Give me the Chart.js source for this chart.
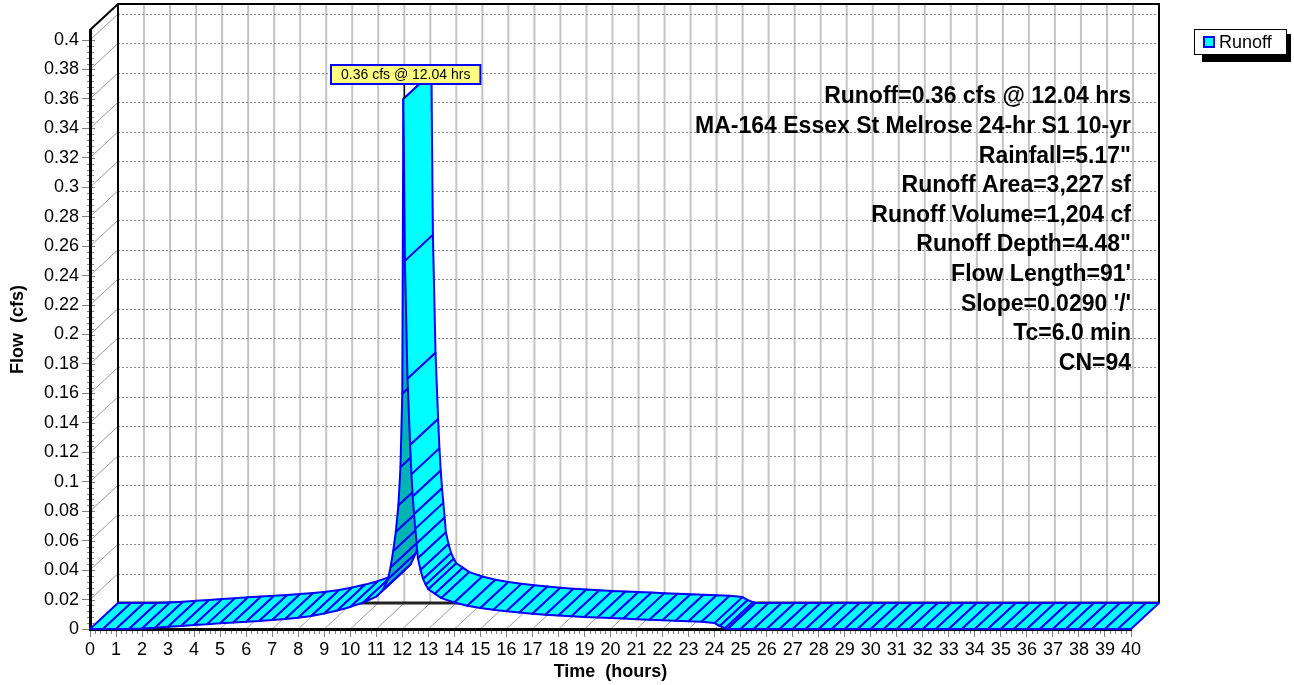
<!DOCTYPE html>
<html>
<head>
<meta charset="utf-8">
<script src="https://cdn.jsdelivr.net/npm/chart.js@4.4.1/dist/chart.umd.min.js"></script>
<style>
  html, body { margin: 0; background: #fff; }
  #wrap { width: 1294px; height: 685px; }
</style>
</head>
<body>
<div id="wrap"><canvas id="hydro"></canvas></div>
<script>
/* ---------- data ---------- */
const hours = [
  0, 0.5, 1, 1.5, 2, 2.5, 3, 3.5, 4, 4.5, 5, 5.5, 6, 6.5, 7, 7.5, 8, 8.5, 9, 9.5,
  10, 10.5, 11, 11.25, 11.45, 11.55, 11.65, 11.75, 11.85, 11.93, 12, 12.04,
  12.1, 12.2, 12.3, 12.35, 12.4, 12.45, 12.5, 12.55, 12.6, 12.7, 12.8, 12.9, 13,
  13.25, 13.5, 14, 14.5, 15, 15.5, 16, 16.5, 17, 17.5, 18, 18.5, 19, 19.5, 20,
  20.5, 21, 21.5, 22, 22.5, 23, 23.5, 24, 24.2, 24.4, 24.5,
  25, 25.5, 26, 26.5, 27, 27.5, 28, 28.5, 29, 29.5, 30, 30.5, 31, 31.5, 32, 32.5,
  33, 33.5, 34, 34.5, 35, 35.5, 36, 36.5, 37, 37.5, 38, 38.5, 39, 39.5, 40
];
const runoffCfs = [
  0, 0, 0, 0, 0.0003, 0.0009, 0.0015, 0.0021, 0.0027, 0.0033, 0.0039, 0.0044, 0.0049, 0.0055, 0.0061, 0.0068, 0.0077, 0.0088, 0.0105, 0.0125,
  0.0150, 0.0180, 0.0220, 0.0265, 0.034, 0.042, 0.053, 0.066, 0.084, 0.11, 0.16, 0.36,
  0.25, 0.17, 0.125, 0.105, 0.09, 0.078, 0.068, 0.058, 0.048, 0.040, 0.034, 0.030, 0.027,
  0.024, 0.021, 0.018, 0.0158, 0.0142, 0.0130, 0.0120, 0.0112, 0.0104, 0.0097, 0.0092, 0.0087, 0.0082, 0.0078, 0.0075,
  0.0071, 0.0067, 0.0063, 0.0060, 0.0056, 0.0052, 0.0049, 0.0040, 0.0020, 0.0005, 0,
  0, 0, 0, 0, 0, 0, 0, 0, 0, 0, 0, 0, 0, 0, 0, 0,
  0, 0, 0, 0, 0, 0, 0, 0, 0, 0, 0, 0, 0, 0, 0
];
const timeTicks = [0, 1, 2, 3, 4, 5, 6, 7, 8, 9, 10, 11, 12, 13, 14, 15, 16, 17, 18, 19, 20,
  21, 22, 23, 24, 25, 26, 27, 28, 29, 30, 31, 32, 33, 34, 35, 36, 37, 38, 39, 40];
const flowTicks = [0, 0.02, 0.04, 0.06, 0.08, 0.1, 0.12, 0.14, 0.16, 0.18, 0.2,
  0.22, 0.24, 0.26, 0.28, 0.3, 0.32, 0.34, 0.36, 0.38, 0.4];
const seriesName = 'Runoff';
const peakLabel = '0.36 cfs @ 12.04 hrs';
const notes = [
  'Runoff=0.36 cfs @ 12.04 hrs',
  'MA-164 Essex St Melrose 24-hr S1 10-yr',
  'Rainfall=5.17"',
  'Runoff Area=3,227 sf',
  'Runoff Volume=1,204 cf',
  'Runoff Depth=4.48"',
  "Flow Length=91'",
  "Slope=0.0290 '/'",
  'Tc=6.0 min',
  'CN=94'
];

/* ---------- look ---------- */
const FONT = '"Liberation Sans", Arial, sans-serif';
const DEPTH = { dx: 28, dy: -26 };   // 3D offset of the back wall
const CYAN = '#00ffff', BLUE = '#0000ff', UNDER = '#00b4b4';

/* back wall, floor and left wall grid */
const wallPlugin = {
  id: 'wall',
  beforeDraw(chart) {
    const { ctx, chartArea: a, scales: { x, y } } = chart;
    const { dx, dy } = DEPTH;
    ctx.save();

    // vertical grid on back wall
    ctx.strokeStyle = '#c4c4c4';
    ctx.lineWidth = 2;
    timeTicks.slice(1, -1).forEach(t => {
      const px = x.getPixelForValue(t) + dx;
      ctx.beginPath(); ctx.moveTo(px, a.top + dy); ctx.lineTo(px, a.bottom + dy); ctx.stroke();
    });

    // dotted horizontal grid on back wall
    ctx.strokeStyle = '#8a8a8a';
    ctx.lineWidth = 1;
    ctx.setLineDash([2, 2]);
    flowTicks.slice(1).forEach(v => {
      const py = Math.round(y.getPixelForValue(v) + dy) + 0.5;
      ctx.beginPath(); ctx.moveTo(a.left + dx, py); ctx.lineTo(a.right + dx, py); ctx.stroke();
    });
    ctx.setLineDash([]);

    // floor + left wall diagonals
    ctx.strokeStyle = '#9a9a9a';
    timeTicks.forEach(t => {
      const px = x.getPixelForValue(t);
      ctx.beginPath(); ctx.moveTo(px, a.bottom); ctx.lineTo(px + dx, a.bottom + dy); ctx.stroke();
    });
    flowTicks.forEach(v => {
      const py = y.getPixelForValue(v);
      ctx.beginPath(); ctx.moveTo(a.left, py); ctx.lineTo(a.left + dx, py + dy); ctx.stroke();
    });

    // frame of back wall
    ctx.strokeStyle = '#000';
    ctx.lineWidth = 2;
    ctx.beginPath();
    ctx.moveTo(a.left, a.top);
    ctx.lineTo(a.left + dx, a.top + dy);
    ctx.lineTo(a.right + dx, a.top + dy);
    ctx.lineTo(a.right + dx, a.bottom + dy);
    ctx.moveTo(a.left + dx, a.top + dy);
    ctx.lineTo(a.left + dx, a.bottom + dy);
    ctx.stroke();
    ctx.strokeStyle = '#222';
    ctx.lineWidth = 3;
    ctx.beginPath();
    ctx.moveTo(a.left + dx, a.bottom + dy); ctx.lineTo(a.right + dx, a.bottom + dy);
    ctx.stroke();

    // minor ticks on the front axes
    ctx.strokeStyle = '#808080';
    ctx.lineWidth = 1;
    for (let t = 0; t <= 40.001; t += 0.2) {
      const px = Math.round(x.getPixelForValue(t)) + 0.5;
      const len = Math.abs(t - Math.round(t)) < 1e-6 ? 0 : 5;
      if (!len) continue;
      ctx.beginPath(); ctx.moveTo(px, a.bottom); ctx.lineTo(px, a.bottom + len); ctx.stroke();
    }
    for (let v = 0; v <= 0.4001; v += 0.004) {
      const py = Math.round(y.getPixelForValue(v)) + 0.5;
      const major = Math.abs(v / 0.02 - Math.round(v / 0.02)) < 1e-6;
      ctx.beginPath();
      if (major) { ctx.moveTo(a.left, py); ctx.lineTo(a.left + 5, py); }
      else { ctx.moveTo(a.left - 3, py); ctx.lineTo(a.left + 4, py); }
      ctx.stroke();
    }
    ctx.restore();
  },

  /* the 3D ribbon, built on the points placed by the line dataset */
  afterDatasetsDraw(chart) {
    const ctx = chart.ctx;
    const pts = chart.getDatasetMeta(0).data;
    const { dx, dy } = DEPTH;
    ctx.save();
    ctx.lineWidth = 2;
    ctx.lineJoin = 'round';
    ctx.strokeStyle = BLUE;
    for (let i = 0; i < pts.length - 1; i++) {
      const p = pts[i], q = pts[i + 1];
      const cross = (q.x - p.x) * dy - (q.y - p.y) * dx;
      ctx.beginPath();
      ctx.moveTo(p.x, p.y);
      ctx.lineTo(q.x, q.y);
      ctx.lineTo(q.x + dx, q.y + dy);
      ctx.lineTo(p.x + dx, p.y + dy);
      ctx.closePath();
      ctx.fillStyle = cross > 0 ? UNDER : CYAN;
      ctx.fill();
      ctx.stroke();
    }
    ctx.restore();
  },

  afterDraw(chart) {
    const { ctx, chartArea: a } = chart;
    const pts = chart.getDatasetMeta(0).data;
    ctx.save();

    // peak label
    const iPeak = runoffCfs.indexOf(Math.max(...runoffCfs));
    const pk = pts[iPeak];
    ctx.font = '14px ' + FONT;
    const w = ctx.measureText(peakLabel).width + 20, h = 19;
    const bx = Math.round(pk.x - w / 2 + 2), by = Math.round(pk.y - 15 - h);
    ctx.strokeStyle = '#000';
    ctx.lineWidth = 1.5;
    ctx.beginPath(); ctx.moveTo(pk.x + 1, by + h); ctx.lineTo(pk.x + 1, pk.y); ctx.stroke();
    ctx.fillStyle = '#ffff80';
    ctx.fillRect(bx, by, w, h);
    ctx.strokeStyle = BLUE;
    ctx.lineWidth = 2;
    ctx.strokeRect(bx, by, w, h);
    ctx.fillStyle = '#000';
    ctx.textAlign = 'center';
    ctx.textBaseline = 'middle';
    ctx.fillText(peakLabel, bx + w / 2, by + h / 2 + 1);

    // summary notes
    ctx.font = 'bold 23px ' + FONT;
    ctx.textAlign = 'right';
    notes.forEach((s, i) => ctx.fillText(s, a.right, a.top + 67 + i * 29.6));

    // legend with drop shadow
    const W = chart.width;
    const lx = W - 100, ly = 29, lw = 93, lh = 26;
    ctx.fillStyle = '#000';
    ctx.fillRect(lx + 8, ly + 5, lw - 4, lh + 2);
    ctx.fillStyle = '#fff';
    ctx.fillRect(lx, ly, lw, lh);
    ctx.strokeStyle = '#000';
    ctx.lineWidth = 1;
    ctx.strokeRect(lx + 0.5, ly + 0.5, lw - 1, lh - 1);
    ctx.fillStyle = CYAN;
    ctx.fillRect(lx + 10, ly + 8, 10, 10);
    ctx.strokeStyle = BLUE;
    ctx.lineWidth = 2;
    ctx.strokeRect(lx + 10, ly + 8, 10, 10);
    ctx.fillStyle = '#000';
    ctx.font = '18px ' + FONT;
    ctx.textAlign = 'left';
    ctx.fillText(seriesName, lx + 25, ly + lh / 2 + 1);
    ctx.restore();
  }
};

new Chart(document.getElementById('hydro'), {
  type: 'line',
  data: {
    datasets: [{
      label: seriesName,
      data: hours.map((t, i) => ({ x: t, y: runoffCfs[i] })),
      showLine: false,
      pointRadius: 0,
      borderColor: BLUE,
      backgroundColor: CYAN
    }]
  },
  options: {
    responsive: true,
    maintainAspectRatio: false,
    animation: false,
    layout: { padding: { left: 0, right: 163, top: 30, bottom: 0 } },
    plugins: { legend: { display: false }, tooltip: { enabled: false } },
    scales: {
      x: {
        type: 'linear', min: 0, max: 40,
        afterBuildTicks: s => { s.ticks = timeTicks.map(v => ({ value: v })); },
        afterFit: s => { s.height = 56; },
        grid: { drawOnChartArea: false, drawTicks: true, tickLength: 8, color: '#808080' },
        border: { display: true, color: '#000', width: 3 },
        ticks: { autoSkip: false, maxRotation: 0, padding: 2, color: '#000', font: { family: FONT, size: 18 } },
        title: { display: true, text: 'Time  (hours)', color: '#000', padding: { top: 0, bottom: 2 },
                 font: { family: FONT, size: 18, weight: 'bold' } }
      },
      y: {
        type: 'linear', min: 0, max: 0.4068,
        afterBuildTicks: s => { s.ticks = flowTicks.map(v => ({ value: v })); },
        afterFit: s => { s.width = 90; },
        grid: { drawOnChartArea: false, drawTicks: true, tickLength: 8, color: '#808080' },
        border: { display: true, color: '#000', width: 3 },
        ticks: { padding: 3, color: '#000', font: { family: FONT, size: 18 },
                 callback: v => String(+v.toFixed(2)) },
        title: { display: true, text: 'Flow  (cfs)', color: '#000', padding: { top: 7, bottom: 0 },
                 font: { family: FONT, size: 18, weight: 'bold' } }
      }
    }
  },
  plugins: [wallPlugin]
});
</script>
</body>
</html>
